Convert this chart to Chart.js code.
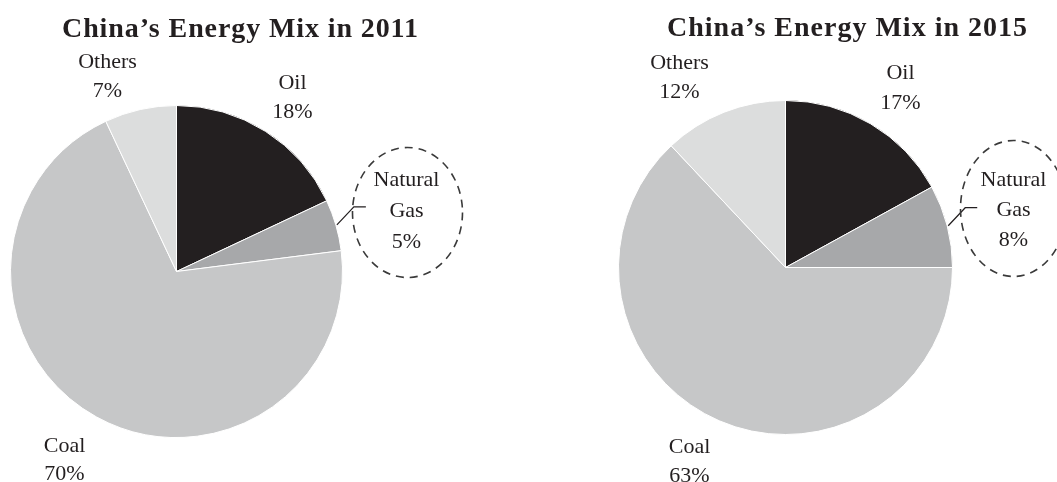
<!DOCTYPE html>
<html>
<head>
<meta charset="utf-8">
<script src="https://cdn.jsdelivr.net/npm/chart.js@4/dist/chart.umd.min.js"></script>
<style>
  html, body { margin: 0; padding: 0; background: #fff; }
  body { width: 1057px; height: 482px; position: relative; overflow: hidden; }
  .pie { position: absolute; top: 0; height: 482px; }
  #mix2011 { left: 0; width: 528px; }
  #mix2015 { left: 528px; width: 529px; }
</style>
</head>
<body>
<div class="pie" id="mix2011"><canvas id="chart2011"></canvas></div>
<div class="pie" id="mix2015"><canvas id="chart2015"></canvas></div>
<script>
// energy sources, clockwise from 12 o'clock
const sources = ['Oil', 'Natural Gas', 'Coal', 'Others'];
const share2011 = [18, 5, 70, 7];
const share2015 = [17, 8, 63, 12];
const titles = ["China\u2019s Energy Mix in 2011", "China\u2019s Energy Mix in 2015"];

const sliceColors = ['#231f20', '#a7a8aa', '#c6c7c8', '#dcdddd'];
const ink = '#231f20';
const serif = '"Liberation Serif", "Times New Roman", serif';

// label text lines per slice
function labelLines(i, values) {
  const name = sources[i] === 'Natural Gas' ? ['Natural', 'Gas'] : [sources[i]];
  return name.concat([values[i] + '%']);
}

// draws title, slice labels, the leader line and the dashed ring around the gas label
const annotate = {
  id: 'annotate',
  afterDraw(chart, args, opts) {
    const ctx = chart.ctx;
    const arcs = chart.getDatasetMeta(0).data;
    const cx = arcs[0].x, cy = arcs[0].y;
    const values = chart.data.datasets[0].data;
    ctx.save();

    // title, spaced out to its width
    ctx.font = 'bold 28px ' + serif;
    ctx.fillStyle = ink;
    ctx.textAlign = 'center';
    ctx.textBaseline = 'alphabetic';
    const raw = ctx.measureText(opts.title).width;
    const gap = Math.max(0, (opts.titleWidth - raw) / (opts.title.length - 1));
    ctx.letterSpacing = gap.toFixed(2) + 'px';
    ctx.fillText(opts.title, opts.titleX + gap / 2, opts.titleY);
    ctx.letterSpacing = '0px';

    // slice labels
    ctx.font = '22px ' + serif;
    opts.labels.forEach((p, i) => {
      labelLines(i, values).forEach((line, k) => {
        ctx.fillText(line, cx + p[0], cy + p[1] + k * p[2]);
      });
    });

    // leader from the middle of the gas slice
    const gas = arcs[1];
    const mid = (gas.startAngle + gas.endAngle) / 2;
    const sx = cx + Math.cos(mid) * (gas.outerRadius + 1);
    const sy = cy + Math.sin(mid) * (gas.outerRadius + 1);
    ctx.strokeStyle = ink;
    ctx.lineWidth = 1.2;
    ctx.beginPath();
    ctx.moveTo(sx, sy);
    ctx.lineTo(sx + 17, sy - 18);
    ctx.lineTo(sx + 29, sy - 18);
    ctx.stroke();

    // dashed ring
    const e = opts.ring;
    ctx.strokeStyle = '#3a3a3a';
    ctx.lineWidth = 1.6;
    ctx.setLineDash([8, 6]);
    ctx.beginPath();
    ctx.ellipse(cx + e[0], cy + e[1], e[2], e[3], 0, 0, Math.PI * 2);
    ctx.stroke();
    ctx.restore();
  }
};

function makePie(id, values, title, pad, extra) {
  return new Chart(document.getElementById(id), {
    type: 'pie',
    data: {
      labels: sources,
      datasets: [{
        data: values,
        backgroundColor: sliceColors,
        borderColor: '#ffffff',
        borderWidth: 1
      }]
    },
    options: {
      responsive: true,
      maintainAspectRatio: false,
      animation: false,
      layout: { padding: pad },
      plugins: {
        legend: { display: false },
        tooltip: { enabled: false },
        annotate: Object.assign({ title: title }, extra)
      }
    },
    plugins: [annotate]
  });
}

makePie('chart2011', share2011, titles[0],
  { left: 10, right: 185, top: 105, bottom: 44 },
  {
    titleX: 240, titleY: 37, titleWidth: 356,
    // [dx, dy, line gap] from the pie centre
    labels: [[116, -183, 29], [230, -86, 31], [-112, 180, 28], [-69, -204, 29]],
    ring: [231, -59, 55, 65]
  });

makePie('chart2015', share2015, titles[1],
  { left: 90, right: 104, top: 100, bottom: 47 },
  {
    titleX: 319, titleY: 36, titleWidth: 360,
    labels: [[115, -189, 30], [228, -82, 30], [-96, 185, 29], [-106, -199, 29]],
    ring: [228, -59, 53, 68]
  });
</script>
</body>
</html>
